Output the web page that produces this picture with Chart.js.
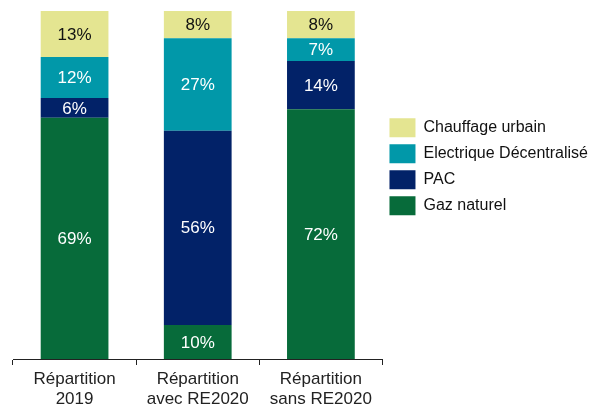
<!DOCTYPE html>
<html>
<head>
<meta charset="utf-8">
<script src="https://cdn.jsdelivr.net/npm/chart.js@4/dist/chart.umd.min.js"></script>
<style>
  html, body { margin: 0; padding: 0; background: #fff; }
  #wrap { width: 598px; height: 408px; }
</style>
</head>
<body>
<div id="wrap"><canvas id="mixChart"></canvas></div>
<script>
const categories = [["Répartition", "2019"], ["Répartition", "avec RE2020"], ["Répartition", "sans RE2020"]];
const gazNaturel = [69.3, 9.8, 71.8];
const pac = [5.7, 55.8, 13.8];
const electrique = [11.8, 26.6, 6.6];
const chauffageUrbain = [13.2, 7.8, 7.8];

const FONT = "'Liberation Sans', Arial, sans-serif";

// percentages written in the middle of each segment
const segmentLabels = {
    id: "segmentLabels",
    afterDatasetsDraw(chart) {
        const ctx = chart.ctx;
        ctx.save();
        ctx.font = "17px " + FONT;
        ctx.textAlign = "center";
        ctx.textBaseline = "middle";
        chart.data.datasets.forEach((ds, i) => {
            const meta = chart.getDatasetMeta(i);
            meta.data.forEach((bar, j) => {
                const mid = (bar.y + bar.base) / 2;
                ctx.fillStyle = ds.labelColor;
                ctx.fillText(Math.round(ds.data[j]) + "%", bar.x, mid + 1);
            });
        });
        ctx.restore();
    }
};

new Chart(document.getElementById("mixChart"), {
    type: "bar",
    data: {
        labels: categories,
        datasets: [
            { label: "Gaz naturel", data: gazNaturel, backgroundColor: "#076b3a", labelColor: "#fff" },
            { label: "PAC", data: pac, backgroundColor: "#022268", labelColor: "#fff" },
            { label: "Electrique Décentralisé", data: electrique, backgroundColor: "#0198a9", labelColor: "#fff" },
            { label: "Chauffage urbain", data: chauffageUrbain, backgroundColor: "#e4e591", labelColor: "#111" }
        ]
    },
    options: {
        responsive: true,
        maintainAspectRatio: false,
        animation: false,
        layout: { padding: { top: 11, left: 13, right: 0, bottom: 0 } },
        datasets: {
            bar: { categoryPercentage: 1, barPercentage: 0.55, borderWidth: 0 }
        },
        scales: {
            x: {
                stacked: true,
                grid: { offset: true, drawOnChartArea: false, drawTicks: true, tickLength: 6, color: "#222" },
                border: { color: "#222" },
                ticks: { color: "#222", font: { family: FONT, size: 17, lineHeight: 1.2 }, padding: 4 },
                afterFit(scale) { scale.height = 49; }
            },
            y: {
                stacked: true,
                display: false,
                min: 0,
                max: 100
            }
        },
        plugins: {
            tooltip: { enabled: false },
            legend: {
                position: "right",
                align: "start",
                reverse: true,
                title: { display: true, text: " ", padding: { top: 93, bottom: 0 }, font: { size: 6 } },
                labels: {
                    boxWidth: 26,
                    boxHeight: 19,
                    padding: 7,
                    color: "#111",
                    font: { family: FONT, size: 16 }
                }
            }
        }
    },
    plugins: [segmentLabels]
});
</script>
</body>
</html>
